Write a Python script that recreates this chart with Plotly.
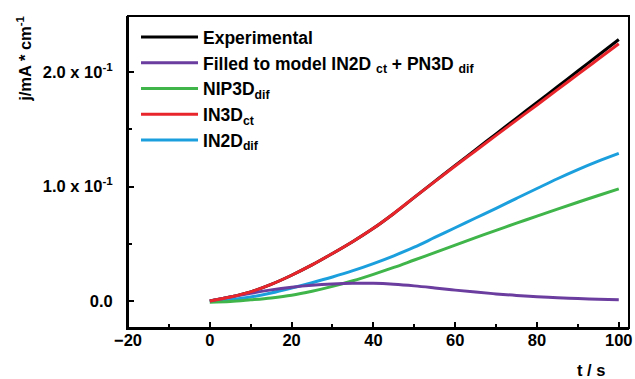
import plotly.graph_objects as go

t = [0, 5, 10, 15, 20, 25, 30, 35, 40, 45, 50, 55, 60, 65, 70, 75, 80, 85, 90, 95, 100]

experimental = [0.0, 0.0035, 0.008, 0.0145, 0.0225, 0.0315, 0.0415, 0.052, 0.0635, 0.0765, 0.0905, 0.1045, 0.1185, 0.1322, 0.146, 0.1597, 0.1735, 0.1872, 0.201, 0.2147, 0.2285]
in3d_ct = [0.0, 0.0035, 0.008, 0.0145, 0.0225, 0.0315, 0.0415, 0.052, 0.0635, 0.0765, 0.0905, 0.1043, 0.118, 0.1313, 0.1447, 0.158, 0.1713, 0.1847, 0.198, 0.2114, 0.2248]
in2d_dif = [0.0, 0.0012, 0.0035, 0.007, 0.0113, 0.016, 0.021, 0.0265, 0.0327, 0.0395, 0.047, 0.0555, 0.064, 0.0725, 0.081, 0.0897, 0.0983, 0.1068, 0.1148, 0.1222, 0.129]
nip3d_dif = [-0.001, -0.0005, 0.001, 0.0027, 0.005, 0.0085, 0.0128, 0.0177, 0.0233, 0.0293, 0.0358, 0.0423, 0.0488, 0.0553, 0.0617, 0.068, 0.0742, 0.0803, 0.0863, 0.0922, 0.098]
filled_model = [0.0, 0.0035, 0.0067, 0.0097, 0.012, 0.0137, 0.0148, 0.0154, 0.0154, 0.0146, 0.0132, 0.0114, 0.0095, 0.0078, 0.0062, 0.0049, 0.0038, 0.0029, 0.0021, 0.0015, 0.001]

series = [
    ("Experimental", experimental, "#000000"),
    ("Filled to model IN2D <sub>ct</sub> + PN3D <sub>dif</sub>", filled_model, "#6a3d9e"),
    ("NIP3D<sub>dif</sub>", nip3d_dif, "#3fb54a"),
    ("IN3D<sub>ct</sub>", in3d_ct, "#e8252b"),
    ("IN2D<sub>dif</sub>", in2d_dif, "#1c9fdd"),
]

ytick_vals = [0.0, 0.1, 0.2]
ytick_text = ["0.0", "1.0 x 10<sup>-1</sup>", "2.0 x 10<sup>-1</sup>"]
y_minor = [0.05, 0.15]
xtick_vals = [-20, 0, 20, 40, 60, 80, 100]
x_minor = [-10, 10, 30, 50, 70, 90]
x_range = [-20, 102.5]
y_range = [-0.0236, 0.249]

fig = go.Figure()
order = [0, 4, 2, 1, 3]
for i in order:
    name, vals, col = series[i]
    fig.add_trace(go.Scatter(x=t, y=vals, mode="lines", name=name,
                             line=dict(color=col, width=3, shape="spline", smoothing=1.0),
                             legendrank=i + 1))

font_family = "Liberation Sans, Arial, Helvetica, sans-serif"
tick_common = dict(showgrid=False, zeroline=False, showline=True, linecolor="black",
                   linewidth=2, ticks="inside", ticklen=6, tickwidth=1.5, tickcolor="black")

fig.update_layout(
    width=635, height=379,
    margin=dict(l=128, r=3, t=16, b=51),
    paper_bgcolor="white", plot_bgcolor="white",
    font=dict(family=font_family, size=16, color="black", weight="bold"),
    showlegend=True,
    legend=dict(x=0.016, y=0.99, xanchor="left", yanchor="top",
                bgcolor="rgba(0,0,0,0)", itemwidth=57,
                font=dict(family=font_family, size=17.5, color="black", weight="bold"),
                tracegroupgap=0),
    xaxis=dict(range=x_range, tickvals=xtick_vals, **tick_common,
               minor=dict(tickvals=x_minor, ticks="inside", ticklen=4,
                          tickwidth=1.5, tickcolor="black"),
               tickfont=dict(size=16.5, weight="bold"), ticklabelstandoff=-4,
               ticklabeloverflow="allow"),
    xaxis2=dict(range=x_range, tickvals=xtick_vals, overlaying="x", side="top",
                showticklabels=False, **tick_common,
                minor=dict(tickvals=x_minor, ticks="inside", ticklen=4,
                           tickwidth=1.5, tickcolor="black")),
    yaxis=dict(range=y_range, tickvals=ytick_vals, ticktext=ytick_text, **tick_common,
               minor=dict(tickvals=y_minor, ticks="inside", ticklen=4,
                          tickwidth=1.5, tickcolor="black"),
               tickfont=dict(size=16.5, weight="bold"), ticklabelstandoff=10),
    yaxis2=dict(range=y_range, tickvals=ytick_vals, overlaying="y", side="right",
                showticklabels=False, **tick_common,
                minor=dict(tickvals=y_minor, ticks="inside", ticklen=4,
                           tickwidth=1.5, tickcolor="black")),
    shapes=[dict(type="rect", xref="paper", yref="paper", x0=0, y0=0, x1=1, y1=1,
                 line=dict(color="black", width=2), fillcolor="rgba(0,0,0,0)", layer="above")],
    annotations=[
        dict(text="j/mA * cm<sup>-1</sup>", xref="paper", yref="paper",
             x=-0.208, y=0.862, textangle=-90, showarrow=False,
             xanchor="center", yanchor="middle",
             font=dict(size=16.5, weight="bold")),
        dict(text="t / s", xref="paper", yref="paper",
             x=0.925, y=-0.135, showarrow=False, xanchor="center", yanchor="middle",
             font=dict(size=16.5, weight="bold")),
    ],
)

fig.write_html("out.html", config={"displayModeBar": False},
               post_script="document.body.style.margin='0';")
